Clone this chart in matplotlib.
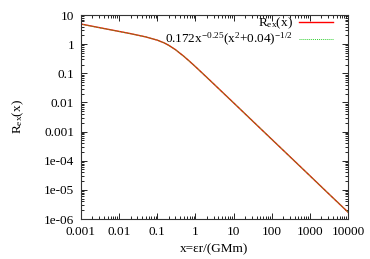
import numpy as np
import matplotlib
matplotlib.use("Agg")
import matplotlib.pyplot as plt
from matplotlib.ticker import LogLocator, FixedLocator, NullFormatter

plt.rcParams['font.family'] = ['Liberation Serif', 'DejaVu Serif']
plt.rcParams['mathtext.fontset'] = 'custom'
plt.rcParams['mathtext.rm'] = 'Liberation Serif'
plt.rcParams['mathtext.it'] = 'Liberation Serif:italic'

# valores
x_pts = [0.001, 0.002, 0.005, 0.01, 0.02, 0.05, 0.1, 0.15, 0.2, 0.3, 0.5, 0.7,
         1, 2, 3, 5, 10, 30, 100, 300, 1000, 3000, 10000]
r_ex = [4.9, 4.1, 3.25, 2.73, 2.29, 1.77, 1.37, 1.11, 0.91, 0.645, 0.38, 0.258,
        0.169, 0.072, 0.0435, 0.023, 0.0097, 0.00245, 0.000544, 0.000138, 3.06e-05, 7.7e-06, 1.72e-06]
r_fit = [4.84, 4.07, 3.23, 2.72, 2.28, 1.77, 1.37, 1.11, 0.91, 0.645, 0.38, 0.258,
         0.169, 0.072, 0.0435, 0.023, 0.0097, 0.00245, 0.000544, 0.000138, 3.06e-05, 7.7e-06, 1.72e-06]

xticks = [0.001, 0.01, 0.1, 1, 10, 100, 1000, 10000]
xlabels = ['0.001', '0.01', '0.1', '1', '10', '100', '1000', '10000']
yticks = [1e-6, 1e-5, 1e-4, 1e-3, 0.01, 0.1, 1, 10]
ylabels = ['1e-06', '1e-05', '1e-04', '0.001', '0.01', '0.1', '1', '10']

fig = plt.figure(figsize=(3.7, 2.59), dpi=100)
ax = fig.add_axes([81/370, 1 - 219/259, 267/370, 204/259])

ax.plot(x_pts, r_ex, color='#ff0000', lw=1.0, label='R$_{\\rm ex}$(x)')
ax.plot(x_pts, r_fit, color='#30d030', lw=0.7, ls=(0, (1, 1)),
        label='0.172x$^{-0.25}$(x$^{2}$+0.04)$^{-1/2}$')

ax.set_xscale('log')
ax.set_yscale('log')
ax.set_xlim(0.001, 10000)
ax.set_ylim(1e-6, 10)

ax.xaxis.set_major_locator(FixedLocator(xticks))
ax.set_xticklabels(xlabels)
ax.yaxis.set_major_locator(FixedLocator(yticks))
ax.set_yticklabels(ylabels)
ax.xaxis.set_minor_locator(LogLocator(base=10, subs=np.arange(2, 10), numticks=20))
ax.yaxis.set_minor_locator(LogLocator(base=10, subs=np.arange(2, 10), numticks=20))
ax.xaxis.set_minor_formatter(NullFormatter())
ax.yaxis.set_minor_formatter(NullFormatter())

ax.tick_params(which='both', direction='in', top=True, right=True, labelsize=9.5, width=0.6, pad=5)
ax.tick_params(which='major', length=4)
ax.tick_params(which='minor', length=2)
for s in ax.spines.values():
    s.set_linewidth(0.8)
    s.set_color('#333333')

ax.set_xlabel('x=εr/(GMm)', fontsize=9.5, labelpad=4)
ax.set_ylabel('R$_{\\rm ex}$(x)', fontsize=9.5, labelpad=13)

ax.legend(loc='upper right', bbox_to_anchor=(0.944, 0.995), frameon=False,
          markerfirst=False, fontsize=9.5, handlelength=2.6, handletextpad=0.45,
          borderaxespad=0, labelspacing=0.0, borderpad=0)

fig.savefig('out.png', dpi=100)
